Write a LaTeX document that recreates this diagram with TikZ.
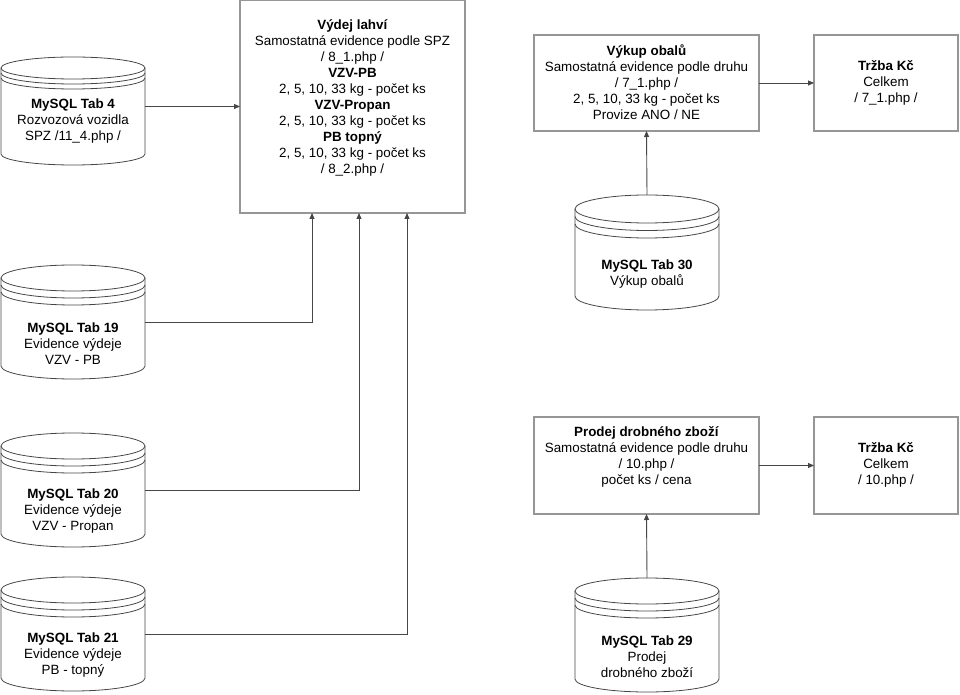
\documentclass[tikz,border=0pt]{standalone}
\usepackage{fontspec}
\setmainfont{Liberation Sans}
\usetikzlibrary{arrows.meta,calc}
\definecolor{boxgray}{RGB}{150,150,150}
\definecolor{linegray}{RGB}{70,70,70}
% #1 node name, #2 y radius, #3 spacing of the extra rims
\newcommand\dbcyl[3]{%
  \draw[dbline] ($(#1.north)+(0,-#2)$) ellipse[x radius=72pt,y radius=#2pt];
  \draw[dbline] ($(#1.north west)+(0,-#2)$) -- ($(#1.south west)+(0,#2)$)
     arc[start angle=180,end angle=360,x radius=72pt,y radius=#2pt] -- ($(#1.north east)+(0,-#2)$);
  \draw[dbline] ($(#1.north west)+(0,-#2-#3)$) arc[start angle=180,end angle=360,x radius=72pt,y radius=#2pt];
  \draw[dbline] ($(#1.north west)+(0,-#2-2*#3)$) arc[start angle=180,end angle=360,x radius=72pt,y radius=#2pt];
}
\begin{document}
\begin{tikzpicture}[x=1pt,y=1pt,
  txt/.style={align=center,font=\fontsize{13.4}{16}\selectfont,inner sep=0pt,text=black},
  boxn/.style={draw=boxgray,line width=1.2pt,outer sep=0pt,inner sep=0pt},
  dbbox/.style={draw=none,outer sep=0pt,inner sep=0pt,minimum width=144pt},
  dbline/.style={draw=linegray,line width=0.8pt},
  conn/.style={draw=linegray,line width=0.9pt,-{Triangle[length=6pt,width=5pt]}}]
\useasboundingbox (0,0) rectangle (960,694);
% boxes
\node[boxn,minimum width=225pt,minimum height=213pt] (vyd) at (352.5,587.5) {};
\node[boxn,minimum width=225pt,minimum height=96pt] (vyk) at (646.5,611) {};
\node[boxn,minimum width=144pt,minimum height=96pt] (tr1) at (886,611) {};
\node[boxn,minimum width=225pt,minimum height=97pt] (prod) at (646.5,228.5) {};
\node[boxn,minimum width=144pt,minimum height=97pt] (tr2) at (886,228.5) {};
\node[txt] (vydt) at (352.5,596.5) {\textbf{Výdej lahví}\\Samostatná evidence podle SPZ\\/ 8\_1.php /\\\textbf{VZV-PB}\\2, 5, 10, 33 kg - počet ks\\\textbf{VZV-Propan}\\2, 5, 10, 33 kg - počet ks\\\textbf{PB topný}\\2, 5, 10, 33 kg - počet ks\\/ 8\_2.php /};
\node[txt] (vykt) at (646.5,611.5) {\textbf{Výkup obalů}\\Samostatná evidence podle druhu\\/ 7\_1.php /\\2, 5, 10, 33 kg - počet ks\\Provize ANO / NE};
\node[txt] (tr1t) at (886,611) {\textbf{Tržba Kč}\\Celkem\\/ 7\_1.php /};
\node[txt] (prodt) at (646.5,237.5) {\textbf{Prodej drobného zboží}\\Samostatná evidence podle druhu\\/ 10.php /\\počet ks / cena};
\node[txt] (tr2t) at (886,229) {\textbf{Tržba Kč}\\Celkem\\/ 10.php /};
% cylinders
\node[dbbox,minimum height=108pt] (t4) at (73,583) {};
\node[dbbox,minimum height=114pt] (t19) at (73,372) {};
\node[dbbox,minimum height=114pt] (t20) at (73,204) {};
\node[dbbox,minimum height=114pt] (t21) at (73,60) {};
\node[dbbox,minimum height=115pt] (t30) at (647,441.5) {};
\node[dbbox,minimum height=114pt] (t29) at (647,59) {};
\dbcyl{t4}{11}{5}\dbcyl{t19}{13}{7}\dbcyl{t20}{13}{7}\dbcyl{t21}{13}{7}\dbcyl{t30}{14}{7.5}\dbcyl{t29}{13}{7}
\node[txt] (t4t) at (73,573) {\textbf{MySQL Tab 4}\\Rozvozová vozidla\\SPZ /11\_4.php /};
\node[txt] (t19t) at (73,350) {\textbf{MySQL Tab 19}\\Evidence výdeje\\VZV - PB};
\node[txt] (t20t) at (73,183) {\textbf{MySQL Tab 20}\\Evidence výdeje\\VZV - Propan};
\node[txt] (t21t) at (73,39) {\textbf{MySQL Tab 21}\\Evidence výdeje\\PB - topný};
\node[txt] (t30t) at (647,419.5) {\textbf{MySQL Tab 30}\\Výkup obalů};
\node[txt] (t29t) at (647,37) {\textbf{MySQL Tab 29}\\Prodej\\drobného zboží};
% connectors
\coordinate (v1) at ($(vyd.south west)+(72,0)$);
\coordinate (v2) at ($(vyd.south west)+(119,0)$);
\coordinate (v3) at ($(vyd.south west)+(167,0)$);
\draw[conn] (t4.east |- vyd.west) -- (vyd.west);
\draw[conn] (t19.east) -| (v1);
\draw[conn] (t20.east) -| (v2);
\draw[conn] (t21.east) -| (v3);
\draw[conn] (t30.north) -- (vyk.south);
\draw[conn] (t29.north) -- (prod.south);
\draw[conn] (vyk.east) -- (tr1.west);
\draw[conn] (prod.east) -- (tr2.west);
\end{tikzpicture}
\end{document}
